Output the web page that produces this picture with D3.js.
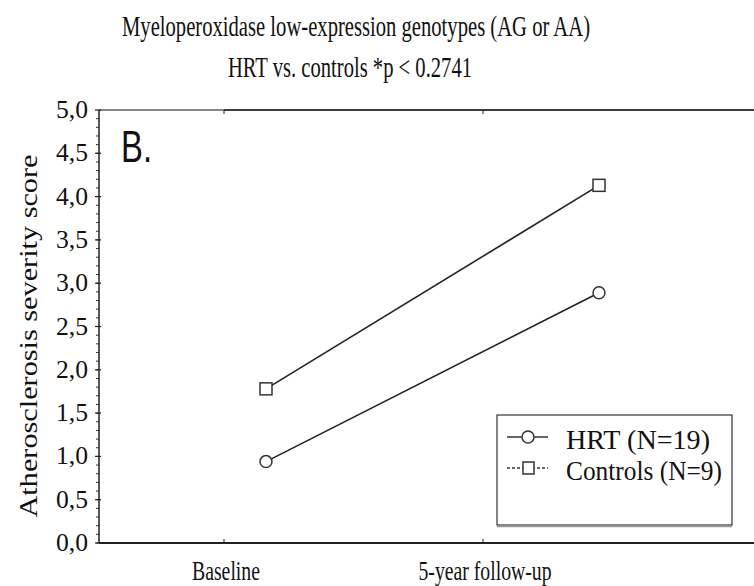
<!DOCTYPE html>
<html>
<head>
<meta charset="utf-8">
<script src="https://cdn.jsdelivr.net/npm/d3@7"></script>
<style>
  body { margin: 0; background: #fff; }
  text { font-family: "Liberation Serif", "Times New Roman", serif; fill: #111; }
</style>
</head>
<body>
<script>
    // chart data
    var timepoints = ["Baseline", "5-year follow-up"];
    var hrtValues = [0.94, 2.89];
    var controlValues = [1.78, 4.13];
    var yTickValues = [0, 0.5, 1, 1.5, 2, 2.5, 3, 3.5, 4, 4.5, 5];
    var titleLines = ["Myeloperoxidase low-expression genotypes (AG or AA)", "HRT vs. controls *p < 0.2741"];
    var legendLabels = ["HRT (N=19)", "Controls (N=9)"];

    var width = 754, height = 586;
    var plotLeft = 99, plotTop = 110, plotBottom = 543, plotRight = 754;

    var svg = d3.select("body").append("svg")
        .attr("width", width)
        .attr("height", height);

    var y = d3.scaleLinear().domain([0, 5]).range([plotBottom, plotTop]);
    var x = d3.scalePoint().domain(timepoints).range([266, 599]);
    var xLabel = d3.scalePoint().domain(timepoints).range([224, 483]);

    // titles
    svg.append("text").attr("x", 356).attr("y", 36)
        .attr("text-anchor", "middle").style("font-size", "29px")
        .attr("textLength", 468).attr("lengthAdjust", "spacingAndGlyphs")
        .text(titleLines[0]);
    svg.append("text").attr("x", 350).attr("y", 77)
        .attr("text-anchor", "middle").style("font-size", "29px")
        .attr("textLength", 244).attr("lengthAdjust", "spacingAndGlyphs")
        .text(titleLines[1]);

    // frame
    svg.append("line").attr("x1", plotLeft).attr("x2", plotRight).attr("y1", plotTop).attr("y2", plotTop)
        .attr("stroke", "#888").attr("stroke-width", 2);
    svg.append("line").attr("x1", 224).attr("x2", plotRight).attr("y1", plotTop).attr("y2", plotTop)
        .attr("stroke", "#222").attr("stroke-width", 1.5);
    svg.append("line").attr("x1", plotLeft).attr("x2", plotRight).attr("y1", plotBottom).attr("y2", plotBottom)
        .attr("stroke", "#222").attr("stroke-width", 1.8);
    svg.append("line").attr("x1", plotLeft).attr("x2", plotLeft).attr("y1", plotTop).attr("y2", plotBottom)
        .attr("stroke", "#222").attr("stroke-width", 1.5);

    // y axis minor ticks
    var minor = d3.range(0, 50).map(function(i) { return i / 10; });
    svg.append("g").selectAll("line").data(minor).enter().append("line")
        .attr("x1", plotLeft - 3).attr("x2", plotLeft)
        .attr("y1", function(d) { return y(d); })
        .attr("y2", function(d) { return y(d); })
        .attr("stroke", "#333").attr("stroke-width", 1);

    svg.append("g").selectAll("line").data(yTickValues).enter().append("line")
        .attr("x1", plotLeft - 4).attr("x2", plotLeft + 2)
        .attr("y1", function(d) { return y(d); })
        .attr("y2", function(d) { return y(d); })
        .attr("stroke", "#222").attr("stroke-width", 1.2);

    svg.append("g").selectAll("text").data(yTickValues).enter().append("text")
        .attr("x", 88)
        .attr("y", function(d) { return y(d) + 8; })
        .attr("text-anchor", "end")
        .style("font-size", "25px")
        .attr("textLength", 32).attr("lengthAdjust", "spacingAndGlyphs")
        .text(function(d) { return d3.format(".1f")(d).replace(".", ","); });

    // x ticks, top and bottom
    svg.append("g").selectAll("line").data(timepoints).enter().append("line")
        .attr("x1", function(d) { return xLabel(d); })
        .attr("x2", function(d) { return xLabel(d); })
        .attr("y1", plotBottom - 4).attr("y2", plotBottom)
        .attr("stroke", "#222");
    svg.append("g").selectAll("line").data(timepoints).enter().append("line")
        .attr("x1", function(d) { return xLabel(d); })
        .attr("x2", function(d) { return xLabel(d); })
        .attr("y1", plotTop).attr("y2", plotTop + 4)
        .attr("stroke", "#222");

    var labelWidths = [68, 133];
    svg.append("g").selectAll("text").data(timepoints).enter().append("text")
        .attr("x", function(d) { return xLabel(d) + 2; })
        .attr("y", 580)
        .attr("text-anchor", "middle")
        .style("font-size", "27px")
        .attr("textLength", function(d, i) { return labelWidths[i]; })
        .attr("lengthAdjust", "spacingAndGlyphs")
        .text(function(d) { return d; });

    // y axis title
    svg.append("text")
        .attr("transform", "translate(37,336) rotate(-90)")
        .attr("text-anchor", "middle")
        .style("font-size", "26px")
        .attr("textLength", 363).attr("lengthAdjust", "spacingAndGlyphs")
        .text("Atherosclerosis severity score");

    // panel letter
    svg.append("text").attr("x", 121).attr("y", 162)
        .style("font-family", "'Liberation Sans', Arial, sans-serif")
        .style("font-size", "44px")
        .attr("textLength", 31).attr("lengthAdjust", "spacingAndGlyphs")
        .text("B.");

    // series
    var line = d3.line()
        .x(function(d, i) { return x(timepoints[i]); })
        .y(function(d) { return y(d); });

    svg.append("path").datum(controlValues).attr("d", line)
        .attr("fill", "none").attr("stroke", "#222").attr("stroke-width", 1.6);
    svg.append("path").datum(hrtValues).attr("d", line)
        .attr("fill", "none").attr("stroke", "#222").attr("stroke-width", 1.6);

    svg.append("g").selectAll("rect").data(controlValues).enter().append("rect")
        .attr("x", function(d, i) { return x(timepoints[i]) - 6; })
        .attr("y", function(d) { return y(d) - 6; })
        .attr("width", 12).attr("height", 12)
        .attr("fill", "#fff").attr("stroke", "#333").attr("stroke-width", 1.5);
    svg.append("g").selectAll("circle").data(hrtValues).enter().append("circle")
        .attr("cx", function(d, i) { return x(timepoints[i]); })
        .attr("cy", function(d) { return y(d); })
        .attr("r", 6)
        .attr("fill", "#fff").attr("stroke", "#333").attr("stroke-width", 1.5);

    // legend
    var legend = svg.append("g");
    legend.append("rect").attr("x", 497).attr("y", 415).attr("width", 235).attr("height", 110)
        .attr("fill", "#fff").attr("stroke", "#333").attr("stroke-width", 1.2);
    legend.append("line").attr("x1", 497).attr("x2", 732).attr("y1", 526.5).attr("y2", 526.5)
        .attr("stroke", "#999").attr("stroke-width", 1.5);

    var legendY = [437, 468];
    var legendWidths = [144, 156];
    legend.selectAll("line.entry").data(legendLabels).enter().append("line")
        .attr("class", "entry")
        .attr("x1", 507).attr("x2", 548)
        .attr("y1", function(d, i) { return legendY[i]; })
        .attr("y2", function(d, i) { return legendY[i]; })
        .attr("stroke", "#333").attr("stroke-width", 1.3)
        .attr("stroke-dasharray", function(d, i) { return i === 0 ? null : "3,2"; });
    legend.append("circle").attr("cx", 528).attr("cy", legendY[0]).attr("r", 6)
        .attr("fill", "#fff").attr("stroke", "#333").attr("stroke-width", 1.5);
    legend.append("rect").attr("x", 523).attr("y", legendY[1] - 6).attr("width", 11).attr("height", 12)
        .attr("fill", "#fff").attr("stroke", "#333").attr("stroke-width", 1.5);
    legend.selectAll("text").data(legendLabels).enter().append("text")
        .attr("x", 566)
        .attr("y", function(d, i) { return legendY[i] + 12; })
        .style("font-size", "27px")
        .attr("textLength", function(d, i) { return legendWidths[i]; })
        .attr("lengthAdjust", "spacingAndGlyphs")
        .text(function(d) { return d; });
</script>
</body>
</html>
